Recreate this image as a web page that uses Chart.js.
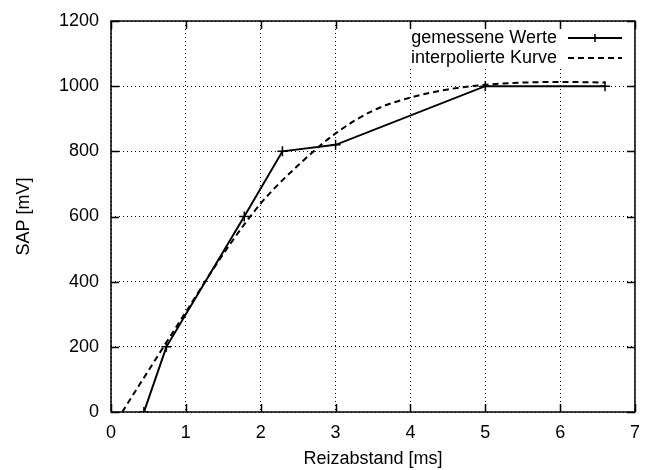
<!DOCTYPE html>
<html>
<head>
<meta charset="utf-8">
<script src="https://cdn.jsdelivr.net/npm/chart.js@4/dist/chart.umd.min.js"></script>
<style>
  html, body { margin: 0; padding: 0; background: #fff; }
  #wrap { width: 650px; height: 470px; }
</style>
</head>
<body>
<div id="wrap"><canvas id="chart_sap" width="650" height="470"></canvas></div>
<script>
// gemessene Werte
const measuredX = [0.44, 0.74, 1.78, 2.29, 3.0, 5.0, 6.6];
const measuredY = [0, 200, 600, 800, 820, 1000, 1000];

// interpolierte Kurve
const curveX = [0.15, 0.5, 1, 1.5, 2, 2.5, 3, 3.5, 4, 4.5, 5, 5.5, 6, 6.6];
const curveY = [0, 127, 307, 485, 640, 757, 855, 925, 965, 990, 1004, 1011, 1013, 1011];

const xTicks = [0, 1, 2, 3, 4, 5, 6, 7];
const yTicks = [0, 200, 400, 600, 800, 1000, 1200];

const seriesLabels = ['gemessene Werte', 'interpolierte Kurve'];
const xTitle = 'Reizabstand [ms]';
const yTitle = 'SAP [mV]';

const FONT = "'Liberation Sans', Arial, Helvetica, sans-serif";
const FONT_SIZE = 18;

const toPoints = (xs, ys) => xs.map((x, i) => ({ x: x, y: ys[i] }));

// gnuplot-like frame, inward ticks on all sides and the key
const gnuplotFrame = {
  id: 'gnuplotFrame',
  beforeDatasetsDraw(chart) {
    const { ctx, chartArea: a } = chart;
    ctx.save();
    ctx.fillStyle = '#fff';
    ctx.fillRect(403, a.top + 1, a.right - 404, 46);
    ctx.restore();
  },
  afterDraw(chart) {
    const { ctx, chartArea: a, scales } = chart;
    const tl = 8;
    ctx.save();
    ctx.strokeStyle = '#000';
    ctx.lineWidth = 1.5;
    ctx.beginPath();
    xTicks.forEach(v => {
      const px = Math.round(scales.x.getPixelForValue(v)) + 0.5;
      ctx.moveTo(px, a.bottom); ctx.lineTo(px, a.bottom - tl);
      ctx.moveTo(px, a.top); ctx.lineTo(px, a.top + tl);
    });
    yTicks.forEach(v => {
      const py = Math.round(scales.y.getPixelForValue(v)) + 0.5;
      ctx.moveTo(a.left, py); ctx.lineTo(a.left + tl, py);
      ctx.moveTo(a.right, py); ctx.lineTo(a.right - tl, py);
    });
    ctx.stroke();
    ctx.strokeRect(a.left, a.top, a.right - a.left, a.bottom - a.top);

    // key
    ctx.font = FONT_SIZE + 'px ' + FONT;
    ctx.fillStyle = '#000';
    ctx.textAlign = 'right';
    ctx.textBaseline = 'middle';
    const textRight = 557, x0 = 568, x1 = 622;
    const rows = [38, 58];
    seriesLabels.forEach((label, i) => {
      ctx.fillText(label, textRight, rows[i]);
      const ds = chart.data.datasets[i];
      ctx.lineWidth = ds.borderWidth;
      ctx.setLineDash(ds.borderDash || []);
      ctx.beginPath();
      ctx.moveTo(x0, rows[i]); ctx.lineTo(x1, rows[i]);
      ctx.stroke();
      ctx.setLineDash([]);
      if (i === 0) {
        const mx = (x0 + x1) / 2;
        ctx.lineWidth = 1.5;
        ctx.beginPath();
        ctx.moveTo(mx - 4, rows[i]); ctx.lineTo(mx + 4, rows[i]);
        ctx.moveTo(mx, rows[i] - 4); ctx.lineTo(mx, rows[i] + 4);
        ctx.stroke();
      }
    });
    ctx.restore();
  }
};

const data = {
  datasets: [
    {
      label: seriesLabels[0],
      data: toPoints(measuredX, measuredY),
      showLine: true,
      borderColor: '#000',
      backgroundColor: '#000',
      borderWidth: 2,
      pointStyle: 'cross',
      pointRadius: 5,
      pointBorderWidth: 1.5,
      tension: 0
    },
    {
      label: seriesLabels[1],
      data: toPoints(curveX, curveY),
      showLine: true,
      borderColor: '#000',
      borderWidth: 2,
      borderDash: [6, 4],
      pointRadius: 0,
      cubicInterpolationMode: 'monotone'
    }
  ]
};

const options = {
  responsive: false,
  animation: false,
  layout: { padding: { left: 0, right: 5, top: 20, bottom: 0 } },
  plugins: {
    legend: { display: false },
    tooltip: { enabled: false }
  },
  scales: {
    x: {
      type: 'linear',
      min: 0,
      max: 7,
      afterFit: scale => { scale.height = 58; },
      afterBuildTicks: scale => { scale.ticks = xTicks.map(v => ({ value: v })); },
      grid: { color: '#000', lineWidth: 1, drawTicks: false },
      border: { display: false, dash: [1, 3] },
      ticks: {
        color: '#000', padding: 10, font: { family: FONT, size: FONT_SIZE },
        callback: v => String(v)
      },
      title: {
        display: true, text: xTitle, color: '#000',
        font: { family: FONT, size: FONT_SIZE },
        padding: { top: 0, bottom: 0 }
      }
    },
    y: {
      type: 'linear',
      min: 0,
      max: 1200,
      afterFit: scale => { scale.width = 111; },
      afterBuildTicks: scale => { scale.ticks = yTicks.map(v => ({ value: v })); },
      grid: { color: '#000', lineWidth: 1, drawTicks: false },
      border: { display: false, dash: [1, 3] },
      ticks: {
        color: '#000', padding: 12, font: { family: FONT, size: FONT_SIZE, lineHeight: 1 },
        callback: v => String(v)
      },
      title: {
        display: true, text: yTitle, color: '#000',
        font: { family: FONT, size: FONT_SIZE },
        padding: { top: 13, bottom: 0 }
      }
    }
  }
};

new Chart('chart_sap', { type: 'scatter', data, options, plugins: [gnuplotFrame] });
</script>
</body>
</html>
